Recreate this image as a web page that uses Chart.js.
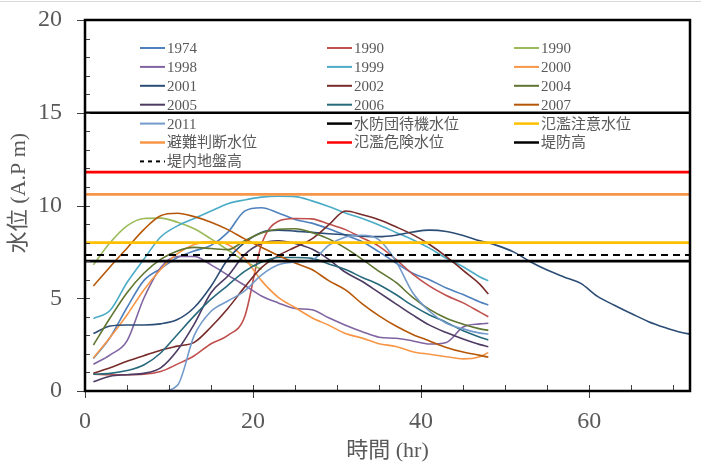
<!DOCTYPE html>
<html>
<head>
<meta charset="utf-8">
<script src="https://cdn.jsdelivr.net/npm/chart.js@4.4.1/dist/chart.umd.min.js"></script>
<style>
  html, body { margin: 0; padding: 0; background: #fff; }
  #wrap { width: 701px; height: 464px; }
</style>
</head>
<body>
<div id="wrap"><canvas id="levelChart" width="701" height="464"></canvas></div>
<script>
// hours since start (most events end at 48h, 2001 runs to 72h)
const hours = [1,3,5,7,9,11,13,15,17,19,21,23,25,27,29,31,33,35,37,39,41,43,45,47,48];
const hours2001 = [1,3,5,7,9,11,13,15,17,19,21,23,25,27,29,31,33,35,37,39,41,43,45,47,49,51,53,55,57,59,61,63,65,67,69,71,72];

// water level (A.P m)
const lv1974 = [1.75,2.9,4.5,5.95,6.6,7.2,7.55,7.85,8.55,9.7,9.88,9.6,9.25,9.05,8.75,8.4,8.05,7.5,6.9,6.35,6.0,5.55,5.2,4.8,4.64];
const lv1990a = [0.9,0.88,0.88,0.9,1.05,1.45,1.9,2.55,3.0,4.0,7.9,9.15,9.3,9.28,9.0,8.7,8.25,7.8,7.1,6.3,5.65,5.15,4.75,4.25,4.0];
const lv1990b = [6.8,8.0,8.9,9.3,9.32,9.1,8.75,8.2,7.6,7.0,6.55,null,null,null,null,null,null,null,null,null,null,null,null,null,null];
const lv1998 = [1.44,1.95,2.7,5.0,6.65,7.25,7.25,6.8,6.25,5.7,5.12,4.75,4.45,4.38,3.95,3.55,3.2,2.9,2.84,2.7,2.53,2.62,3.45,3.62,3.65];
const lv1999 = [3.9,4.35,5.85,7.1,8.3,8.9,9.3,9.7,10.1,10.3,10.45,10.5,10.48,10.25,9.95,9.6,9.3,8.95,8.55,8.15,7.7,7.15,6.7,6.15,5.95];
const lv2000 = [1.78,2.9,4.1,5.45,6.55,7.4,7.9,8.05,7.9,7.15,5.95,5.05,4.5,3.95,3.55,3.1,2.85,2.55,2.4,2.12,1.98,1.85,1.73,1.85,2.07];
const lv2001 = [3.1,3.5,3.56,3.56,3.62,3.85,4.5,5.65,7.1,8.0,8.55,8.67,8.62,8.55,8.48,8.42,8.35,8.32,8.4,8.57,8.67,8.6,8.38,8.1,7.85,7.5,6.97,6.52,6.15,5.8,5.1,4.62,4.18,3.75,3.42,3.15,3.07];
const lv2002 = [0.95,1.25,1.6,1.9,2.2,2.42,2.62,3.45,4.45,5.6,6.65,7.3,7.75,8.2,8.95,9.7,9.5,9.23,8.85,8.43,7.9,7.25,6.5,5.75,5.23];
const lv2004 = [2.48,3.95,5.3,6.35,7.1,7.55,7.74,7.68,7.62,8.1,8.52,8.72,8.75,8.55,8.2,7.7,7.1,6.45,5.85,5.05,4.4,3.92,3.6,3.35,3.27];
const lv2005 = [0.5,0.8,0.88,0.95,1.25,2.2,3.6,5.3,6.2,7.35,7.95,8.1,7.95,7.65,7.1,6.4,5.9,5.3,4.7,4.1,3.55,3.15,2.8,2.5,2.39];
const lv2006 = [0.9,0.95,1.1,1.4,2.05,3.05,4.05,4.95,5.7,6.45,6.95,7.2,7.2,7.15,6.85,6.55,6.12,5.73,5.2,4.6,4.1,3.7,3.25,2.9,2.75];
const lv2007 = [5.66,6.7,7.7,8.7,9.45,9.58,9.4,9.1,8.7,8.2,7.75,7.3,6.9,6.55,5.95,5.45,4.7,4.05,3.5,3.05,2.7,2.35,2.1,1.92,1.82];
const lv2011 = [0,0,0,0,0,0.3,3.0,4.3,4.85,5.4,6.25,6.8,6.95,7.05,7.85,8.3,8.4,8.15,7.0,5.3,4.3,3.65,3.35,3.12,3.07];

const eventLabels = ['1974','1990','1990','1998','1999','2000','2001','2002','2004','2005','2006','2007','2011'];
const eventColors = ['#4F81BD','#C0504D','#9BBB59','#8064A2','#4BACC6','#F79646','#2C4D75','#772C2A','#5F7530','#4D3B62','#276A7C','#B65708','#729ACA'];
const eventLevels = [lv1974, lv1990a, lv1990b, lv1998, lv1999, lv2000, lv2001, lv2002, lv2004, lv2005, lv2006, lv2007, lv2011];

// reference water levels
const refLabels = ['水防団待機水位','氾濫注意水位','避難判断水位','氾濫危険水位','堤防高','堤内地盤高'];
const refValues = [7.0, 8.0, 10.6, 11.8, 15.0, 7.33];
const refColors = ['#000000','#FFC000','#F79646','#FF0000','#000000','#000000'];

const xTicks = [0, 20, 40, 60];
const yTicks = [0, 5, 10, 15, 20];

const fontFam = "'Liberation Serif', 'Noto Sans CJK JP', serif";
const textGray = '#595959';

const datasets = [];
eventLabels.forEach((label, i) => {
  const xs = label === '2001' ? hours2001 : hours;
  const pts = [];
  eventLevels[i].forEach((v, k) => { if (v !== null) pts.push({ x: xs[k], y: v }); });
  datasets.push({
    label: label,
    data: pts,
    borderColor: eventColors[i],
    borderWidth: 1.6,
    cubicInterpolationMode: 'monotone',
    pointRadius: 0,
    fill: false
  });
});
refLabels.forEach((label, i) => {
  datasets.push({
    label: label,
    data: [{ x: 0, y: refValues[i] }, { x: 72, y: refValues[i] }],
    borderColor: refColors[i],
    borderWidth: label === '堤内地盤高' ? 2 : 2.6,
    borderDash: label === '堤内地盤高' ? [7, 5] : [],
    pointRadius: 0,
    fill: false
  });
});
// later series drawn on top, like the spreadsheet original
datasets.forEach((d, i) => { d.order = datasets.length - i; });

const framePlugin = {
  id: 'frame',
  beforeDraw(chart) {
    const c = chart.ctx;
    c.save();
    c.fillStyle = '#d9d9d9';
    c.fillRect(0, 1, chart.width, 1);
    c.restore();
  },
  afterDatasetsDraw(chart) {
    const c = chart.ctx;
    const a = chart.chartArea;
    const xs = chart.scales.x, ys = chart.scales.y;
    c.save();
    // tick marks
    c.strokeStyle = '#404040';
    c.lineWidth = 1;
    c.beginPath();
    for (let v = 0; v <= 20; v++) {
      const y = Math.round(ys.getPixelForValue(v)) + 0.5;
      c.moveTo(v % 5 === 0 ? a.left - 8 : a.left, y);
      c.lineTo(a.left + 5, y);
    }
    for (let v = 0; v <= 72; v += 5) {
      const x = Math.round(xs.getPixelForValue(v)) + 0.5;
      c.moveTo(x, a.bottom - 6);
      c.lineTo(x, v % 20 === 0 ? a.bottom + 7 : a.bottom);
    }
    c.stroke();
    // plot frame
    c.strokeStyle = '#000';
    c.lineWidth = 2.5;
    c.strokeRect(a.left, a.top, a.right - a.left, a.bottom - a.top);

    // legend inside the plot
    const colX = [140, 327, 514];
    c.font = '15px ' + fontFam;
    c.textBaseline = 'middle';
    c.textAlign = 'left';
    chart.data.datasets.forEach((d, i) => {
      const x = colX[i % 3];
      const y = 48 + Math.floor(i / 3) * 18.9;
      c.strokeStyle = d.borderColor;
      c.lineWidth = d.borderWidth > 2 ? 2.5 : 2;
      c.setLineDash(d.borderDash && d.borderDash.length ? [4, 4] : []);
      c.beginPath();
      c.moveTo(x, y);
      c.lineTo(x + 25, y);
      c.stroke();
      c.setLineDash([]);
      c.fillStyle = textGray;
      c.fillText(d.label, x + 27, y + 1);
    });

    // y axis title
    c.translate(19, 193);
    c.rotate(-Math.PI / 2);
    c.textAlign = 'center';
    c.font = '22px ' + fontFam;
    c.fillStyle = textGray;
    c.fillText('水位 (A.P m)', 0, 0);
    c.restore();
  }
};

new Chart(document.getElementById('levelChart').getContext('2d'), {
  type: 'line',
  data: { datasets: datasets },
  options: {
    responsive: false,
    animation: false,
    devicePixelRatio: 1,
    layout: { padding: { left: 0, right: 11, top: 20, bottom: 0 } },
    plugins: { legend: { display: false }, tooltip: { enabled: false } },
    scales: {
      x: {
        type: 'linear',
        min: 0,
        max: 72,
        afterBuildTicks: s => { s.ticks = xTicks.map(v => ({ value: v })); },
        ticks: { color: textGray, font: { family: fontFam, size: 24 }, padding: 16, maxRotation: 0 },
        grid: { display: false, drawTicks: false },
        border: { display: false },
        title: { display: true, text: '時間 (hr)', color: textGray, font: { family: fontFam, size: 22 }, padding: 0 },
        afterFit: s => { s.height = 73; s.paddingLeft = 0; s.paddingRight = 0; }
      },
      y: {
        min: 0,
        max: 20,
        afterBuildTicks: s => { s.ticks = yTicks.map(v => ({ value: v })); },
        ticks: { color: textGray, font: { family: fontFam, size: 24 }, padding: 23 },
        grid: { display: false, drawTicks: false },
        border: { display: false },
        afterFit: s => { s.width = 85; s.paddingTop = 0; s.paddingBottom = 0; }
      }
    }
  },
  plugins: [framePlugin]
});
</script>
</body>
</html>
